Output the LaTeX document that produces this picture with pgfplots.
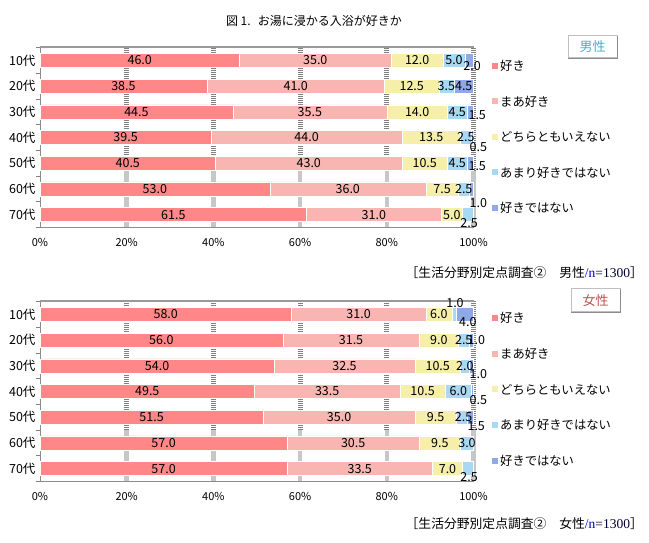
\documentclass[border=0pt]{standalone}
\usepackage{fontspec}
\setmainfont{Noto Sans CJK JP}
\newfontfamily\serifn{Liberation Serif}
\usepackage{pgfplots}
\usepackage{pgfplotstable}
\pgfplotsset{compat=1.18}

\definecolor{c1}{HTML}{FF8787}
\definecolor{c2}{HTML}{F9B5B1}
\definecolor{c3}{HTML}{F5EFAA}
\definecolor{c4}{HTML}{A9D9F2}
\definecolor{c5}{HTML}{8FA8E6}
\definecolor{mtxt}{HTML}{4BACC6}
\definecolor{ftxt}{HTML}{C0504D}

% y: 6 = 10代 ... 0 = 70代
\pgfplotstableread{
y a b c d e
6 46.0 35.0 12.0 5.0 2.0
5 38.5 41.0 12.5 3.5 4.5
4 44.5 35.5 14.0 4.5 1.5
3 39.5 44.0 13.5 2.5 0.5
2 40.5 43.0 10.5 4.5 1.5
1 53.0 36.0 7.5 2.5 1.0
0 61.5 31.0 5.0 2.5 0.0
}\male

\pgfplotstableread{
y a b c d e
6 58.0 31.0 6.0 1.0 4.0
5 56.0 31.5 9.0 2.5 1.0
4 54.0 32.5 10.5 2.0 1.0
3 49.5 33.5 10.5 6.0 0.5
2 51.5 35.0 9.5 2.5 1.5
1 57.0 30.5 9.5 3.0 0.0
0 57.0 33.5 7.0 2.5 0.0
}\female

\pgfplotstableread{
x y l dx dy
23 6 46.0 0 0
63.5 6 35.0 0 0
87 6 12.0 0 0
95.5 6 5.0 0 0
99 6 2.0 3 -6
19.25 5 38.5 0 0
59 5 41.0 0 0
85.75 5 12.5 0 0
93.75 5 3.5 0 0
97.75 5 4.5 0 0
22.25 4 44.5 0 0
62.25 4 35.5 0 0
87 4 14.0 0 0
96.25 4 4.5 0 0
99.25 4 1.5 7 -3
19.75 3 39.5 0 0
61.5 3 44.0 0 0
90.25 3 13.5 0 0
98.25 3 2.5 0 0
99.75 3 0.5 6 -10
20.25 2 40.5 0 0
62 2 43.0 0 0
88.75 2 10.5 0 0
96.25 2 4.5 0 0
99.25 2 1.5 7 -3
26.5 1 53.0 0 0
71 1 36.0 0 0
92.75 1 7.5 0 0
97.75 1 2.5 0 0
99.5 1 1.0 7 -14
30.75 0 61.5 0 0
77 0 31.0 0 0
95 0 5.0 0 0
98.75 0 2.5 1 -8
}\malelab

\pgfplotstableread{
x y l dx dy
29 6 58.0 0 0
73.5 6 31.0 0 0
92 6 6.0 0 0
95.5 6 1.0 1 11
98 6 4.0 3 -8
28 5 56.0 0 0
71.75 5 31.5 0 0
92 5 9.0 0 0
97.75 5 2.5 0 0
99.5 5 1.0 5 0
27 4 54.0 0 0
70.25 4 32.5 0 0
91.75 4 10.5 0 0
98 4 2.0 0 0
99.5 4 1.0 7 -8
24.75 3 49.5 0 0
66.25 3 33.5 0 0
88.25 3 10.5 0 0
96.5 3 6.0 0 0
99.75 3 0.5 6 -9
25.75 2 51.5 0 0
69 2 35.0 0 0
91.25 2 9.5 0 0
97.25 2 2.5 2 0
99.25 2 1.5 6 -9
28.5 1 57.0 0 0
72.25 1 30.5 0 0
92.25 1 9.5 0 0
98.5 1 3.0 0 0
28.5 0 57.0 0 0
73.75 0 33.5 0 0
94 0 7.0 0 0
98.75 0 2.5 1 -8
}\femalelab

\pgfplotsset{
  barax/.style={
    scale only axis, width=433.5pt, height=180pt,
    xbar stacked, bar width=14pt,
    xmin=0, xmax=100, ymin=-0.5, ymax=6.5,
    axis line style={draw=none},
    xtick={0,20,40,60,80,100},
    xticklabels={0\%,20\%,40\%,60\%,80\%,100\%},
    ytick={0,...,6},
    yticklabels={70代,60代,50代,40代,30代,20代,10代},
    minor ytick={-0.5,0.5,...,6.5},
    major tick length=0pt, minor tick length=4pt, tick align=outside,
    ytick pos=left,
    every minor tick/.append style={black!50, line width=0.8pt},
    xticklabel style={font=\fontsize{11}{11}\selectfont, yshift=-7pt},
    yticklabel style={font=\fontsize{12.5}{12.5}\selectfont, xshift=-1pt},
    /pgf/number format/assume math mode=true,
    clip=false,
  },
  labax/.style={scale only axis, width=433.5pt, height=180pt,
    xmin=0, xmax=100, ymin=-0.5, ymax=6.5, hide axis, clip=false},
  lab/.style={draw=none, mark=none, nodes near coords, point meta=explicit symbolic,
    visualization depends on={\thisrow{dx}\as\mydx},
    visualization depends on={\thisrow{dy}\as\mydy},
    every node near coord/.append style={anchor=center, inner sep=0pt,
      font=\fontsize{12.5}{12.5}\selectfont, xshift=\mydx pt, yshift=\mydy pt}},
  seg/.style={fill=#1, draw=white, line width=0.4pt},
}

\newcommand\gridlines[1]{%
  \pgfplotsinvokeforeach{20,40,60,80,100}{%
    \draw[black!50, line width=5pt, dash pattern=on 0.8pt off 1.2pt] (axis cs:##1,#1) -- (axis cs:##1,6.5);
    \draw[black!22, line width=4.5pt] (axis cs:##1,-0.5) -- (axis cs:##1,#1);
  }}

\newcommand\frameaxis{%
  \draw[black!40, line width=2pt] (axis cs:0,6.5) -- (axis cs:100,6.5);
  \draw[black!45, line width=1pt] (axis cs:0,-0.5) -- (axis cs:0,6.5);
  \draw[black!45, line width=1pt] (axis cs:0,-0.5) -- (axis cs:100,-0.5);}

\newcommand\legendblock[5]{%
  \foreach \c/\t/\yy in {c1/好き/#1, c2/まあ好き/#2, c3/どちらともいえない/#3, c4/あまり好きではない/#4, c5/好きではない/#5}{
    \fill[\c] (492pt,\yy pt-3pt) rectangle (498pt,\yy pt+3pt);
    \node[anchor=west, inner sep=0pt, font=\fontsize{12.3}{12.3}\selectfont] at (500pt,\yy pt) {\t};
  }}

\begin{document}
\begin{tikzpicture}
\path[use as bounding box] (0pt,0pt) rectangle (649pt,543pt);
\node[font=\fontsize{12}{12}\selectfont] at (314pt,522pt) {図 1.\hspace{0.6em}お湯に浸かる入浴が好きか};

% ---------- male ----------
\begin{axis}[labax, at={(40pt,315.5pt)}, anchor=south west]
  \gridlines{1.7}
\end{axis}
\begin{axis}[barax, at={(40pt,315.5pt)}, anchor=south west]
  \addplot[seg=c1] table[x=a,y=y]{\male};
  \addplot[seg=c2] table[x=b,y=y]{\male};
  \addplot[seg=c3] table[x=c,y=y]{\male};
  \addplot[seg=c4] table[x=d,y=y]{\male};
  \addplot[seg=c5] table[x=e,y=y]{\male};
  \frameaxis
\end{axis}
\begin{axis}[labax, at={(40pt,315.5pt)}, anchor=south west]
  \addplot[lab] table[x=x,y=y,meta=l]{\malelab};
\end{axis}

% ---------- female ----------
\begin{axis}[labax, at={(40pt,61.5pt)}, anchor=south west]
  \gridlines{1.5}
\end{axis}
\begin{axis}[barax, at={(40pt,61.5pt)}, anchor=south west]
  \addplot[seg=c1] table[x=a,y=y]{\female};
  \addplot[seg=c2] table[x=b,y=y]{\female};
  \addplot[seg=c3] table[x=c,y=y]{\female};
  \addplot[seg=c4] table[x=d,y=y]{\female};
  \addplot[seg=c5] table[x=e,y=y]{\female};
  \frameaxis
\end{axis}
\begin{axis}[labax, at={(40pt,61.5pt)}, anchor=south west]
  \addplot[lab] table[x=x,y=y,meta=l]{\femalelab};
\end{axis}

% legends
\legendblock{477}{441.5}{406}{370.5}{335}
\legendblock{225}{189.25}{153.5}{117.75}{82}

% gender boxes
\draw[black!25, line width=1pt] (568pt,485pt) rectangle (617pt,507pt);
\draw[black!45, line width=1.2pt] (568pt,484.5pt) -- (617.5pt,484.5pt) -- (617.5pt,507pt);
\node[text=mtxt, font=\fontsize{13}{13}\selectfont] at (592.5pt,496pt) {男性};
\draw[black!25, line width=1pt] (571pt,231pt) rectangle (620pt,254pt);
\draw[black!45, line width=1.2pt] (571pt,230.5pt) -- (620.5pt,230.5pt) -- (620.5pt,254pt);
\node[text=ftxt, font=\fontsize{13}{13}\selectfont] at (595.5pt,242.5pt) {女性};

% sources
\node[anchor=east, inner sep=0pt, font=\fontsize{12.8}{12.8}\selectfont] at (643pt,270pt)
  {［生活分野別定点調査②　男性{\serifn\fontsize{13.5}{13.5}\selectfont\color{blue!75!black}/n}{\serifn\fontsize{13.5}{13.5}\selectfont\color{black!80!blue}=1300}］};
\node[anchor=east, inner sep=0pt, font=\fontsize{12.8}{12.8}\selectfont] at (643pt,19pt)
  {［生活分野別定点調査②　女性{\serifn\fontsize{13.5}{13.5}\selectfont\color{blue!75!black}/n}{\serifn\fontsize{13.5}{13.5}\selectfont\color{black!80!blue}=1300}］};
\end{tikzpicture}
\end{document}
